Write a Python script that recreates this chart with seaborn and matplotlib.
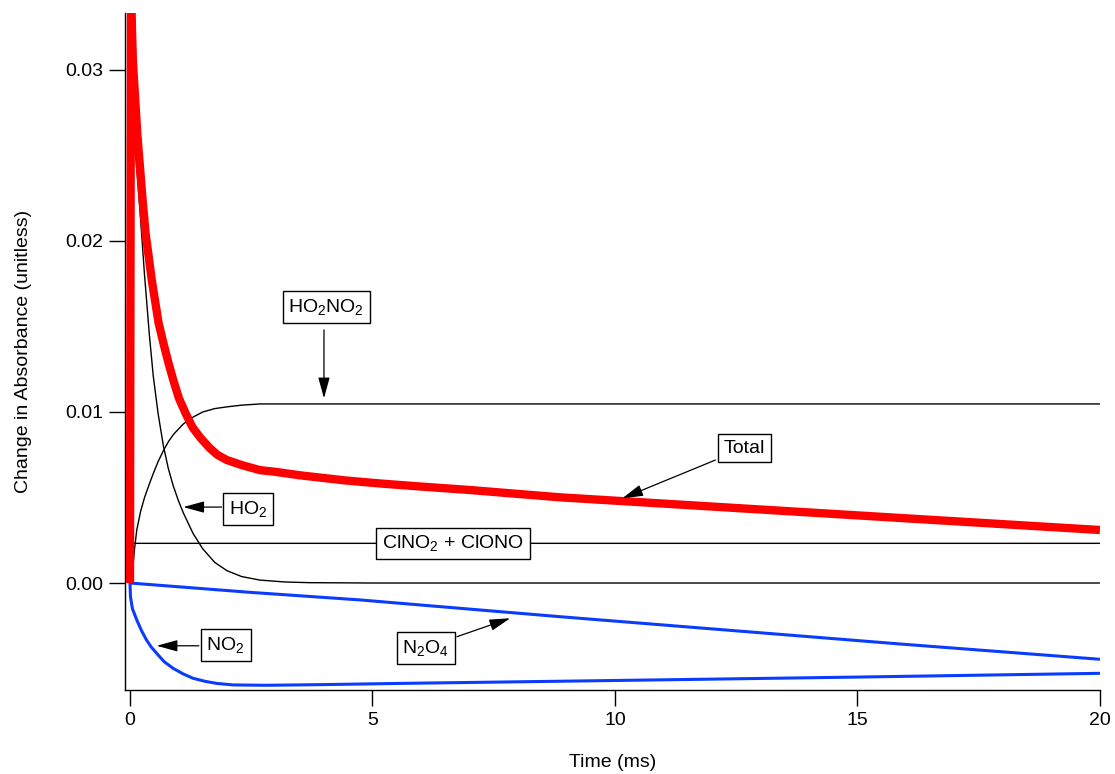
import matplotlib
matplotlib.use("Agg")
import matplotlib.pyplot as plt
import seaborn as sns
import pandas as pd

# Simulated absorbance traces (time in ms)
t_total = [0.0, 0.02, 0.06, 0.15, 0.26, 0.32, 0.45, 0.59, 0.70, 0.80, 0.90, 1.01,
           1.15, 1.29, 1.45, 1.64, 1.80, 1.99, 2.3, 2.68, 3.0, 3.5, 4.43, 5.2, 6.0,
           7.0, 8.87, 13.4, 15.9, 20.0]
v_total = [0.0, 0.0345, 0.0305, 0.0263, 0.0224, 0.0205, 0.0177, 0.0152, 0.0139,
           0.0128, 0.0118, 0.0108, 0.0099, 0.0091, 0.0085, 0.0079, 0.0075, 0.0072,
           0.0069, 0.0066, 0.0065, 0.0063, 0.0060, 0.00581, 0.00564, 0.00544,
           0.00501, 0.00423, 0.0038, 0.0031]

t_ho2 = [0.0, 0.003, 0.07, 0.19, 0.30, 0.40, 0.48, 0.58, 0.69, 0.79, 0.89, 1.00,
         1.10, 1.20, 1.30, 1.50, 1.75, 2.0, 2.3, 2.68, 3.2, 3.7, 5.0, 20.0]
v_ho2 = [0.0, 0.034, 0.0268, 0.0224, 0.0180, 0.0145, 0.0121, 0.0099, 0.0080,
         0.0067, 0.0057, 0.0048, 0.0041, 0.0035, 0.0029, 0.0020, 0.0012, 0.00072,
         0.00038, 0.00017, 0.00006, 0.00002, 0.0, 0.0]

t_ho2no2 = [0.0, 0.04, 0.09, 0.14, 0.22, 0.30, 0.40, 0.48, 0.58, 0.70, 0.80, 0.90,
            1.00, 1.10, 1.30, 1.50, 1.75, 2.0, 2.3, 2.68, 20.0]
v_ho2no2 = [0.0, 0.0002, 0.0019, 0.0031, 0.0042, 0.0050, 0.0058, 0.0064, 0.0071,
            0.0078, 0.0083, 0.0087, 0.0090, 0.0093, 0.0097, 0.0100, 0.0102, 0.0103,
            0.0104, 0.01047, 0.01047]

t_clno2 = [0.0, 0.03, 0.05, 20.0]
v_clno2 = [0.0, 0.0, 0.00232, 0.00232]

t_no2 = [0.0, 0.01, 0.05, 0.14, 0.24, 0.34, 0.44, 0.55, 0.70, 0.89, 1.1, 1.3, 1.55,
         1.79, 2.13, 2.82, 4.0, 5.57, 10.0, 15.0, 20.0]
v_no2 = [0.0, -0.0008, -0.0015, -0.00216, -0.00280, -0.00333, -0.00375, -0.00411,
         -0.00459, -0.00499, -0.00532, -0.00557, -0.00575, -0.00587, -0.00596,
         -0.00598, -0.00594, -0.00587, -0.0057, -0.0055, -0.00528]

t_n2o4 = [0.0, 2.5, 4.75, 8.87, 15.9, 20.0]
v_n2o4 = [0.0, -0.00055, -0.00099, -0.00197, -0.00357, -0.00446]

x_ticks = [0, 5, 10, 15, 20]
y_ticks = [0.00, 0.01, 0.02, 0.03]

sns.set_theme(style="white")
plt.rcParams["font.family"] = ["Liberation Sans", "DejaVu Sans"]
plt.rcParams["mathtext.fontset"] = "custom"
plt.rcParams["mathtext.rm"] = "Liberation Sans"
plt.rcParams["mathtext.it"] = "Liberation Sans:italic"
plt.rcParams["mathtext.default"] = "regular"

fig = plt.figure(figsize=(11.15, 7.74), dpi=100)
ax = fig.add_axes([0.1121, 0.1085, 0.9865 - 0.1121, 0.9832 - 0.1085])

def trace(t, v, color, lw, z):
    df = pd.DataFrame({"t": t, "v": v})
    sns.lineplot(data=df, x="t", y="v", ax=ax, color=color, linewidth=lw,
                 sort=False, estimator=None, zorder=z,
                 solid_capstyle="butt", solid_joinstyle="round")

trace(t_ho2, v_ho2, "black", 1.0, 2)
trace(t_ho2no2, v_ho2no2, "black", 1.0, 2)
trace(t_clno2, v_clno2, "black", 1.0, 2)
trace(t_n2o4, v_n2o4, "#0A3CFF", 2.2, 3)
trace(t_no2, v_no2, "#0A3CFF", 2.2, 3)
trace(t_total, v_total, "#FF0000", 6.0, 4)

ax.set_xlim(-0.103, 20.0)
ax.set_ylim(-0.006257, 0.03333)
ax.set_xticks(x_ticks)
ax.set_xticklabels([str(x) for x in x_ticks])
ax.set_yticks(y_ticks)
ax.set_yticklabels([f"{y:.2f}" for y in y_ticks])
ax.tick_params(direction="out", length=11.5, width=1.0, labelsize=14,
               color="black", labelcolor="black", pad=4, left=True, bottom=True)
for side in ("top", "right"):
    ax.spines[side].set_visible(False)
for side in ("left", "bottom"):
    ax.spines[side].set_color("black")
    ax.spines[side].set_linewidth(1.0)

ax.set_xlabel("Time (ms)", fontsize=14, color="black", labelpad=18)
ax.set_ylabel("Change in Absorbance (unitless)", fontsize=14, color="black",
              labelpad=24)

box = dict(boxstyle="square,pad=0.3", fc="white", ec="black", lw=1.0)
arrow = dict(arrowstyle="-|>,head_length=0.8,head_width=0.22", color="black",
             lw=0.9, mutation_scale=16, shrinkA=0, shrinkB=0)

labels = [
    ("HO$_2$NO$_2$", (4.05, 0.01614), (4.0, 0.0148), (4.0, 0.0108)),
    ("Total", (12.67, 0.00789), (12.07, 0.00719), (10.15, 0.00495)),
    ("HO$_2$", (2.43, 0.00433), (1.89, 0.00444), (1.10, 0.00444)),
    ("ClNO$_2$ + ClONO", (6.66, 0.00232), None, None),
    ("NO$_2$", (1.97, -0.00364), (1.42, -0.00367), (0.55, -0.00367)),
    ("N$_2$O$_4$", (6.10, -0.0038), (6.74, -0.00314), (7.84, -0.00206)),
]
for text, pos, tail, tip in labels:
    ax.text(pos[0], pos[1], text, ha="center", va="center", fontsize=14,
            color="black", bbox=box, zorder=6)
    if tail is not None:
        ax.annotate("", xy=tip, xytext=tail, arrowprops=arrow, zorder=5)

fig.savefig("out.png", dpi=100)
